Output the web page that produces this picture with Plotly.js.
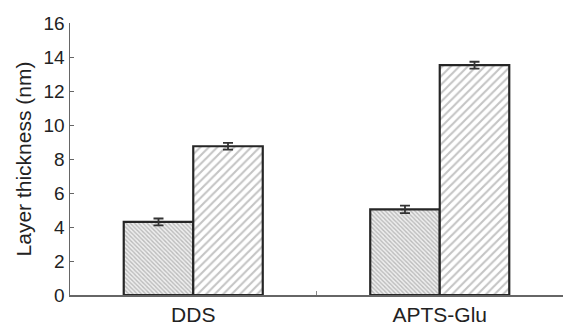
<!DOCTYPE html>
<html>
<head>
<meta charset="utf-8">
<script src="https://cdn.plot.ly/plotly-3.0.1.min.js"></script>
<style>html,body{margin:0;padding:0;background:#fff;}#chart{width:565px;height:328px;}</style>
</head>
<body>
<div id="chart"></div>
<script>
const categories = ["DDS", "APTS-Glu"];
const series1 = [4.3, 5.04];
const series1Err = [0.2, 0.22];
const series2 = [8.75, 13.52];
const series2Err = [0.2, 0.2];
const yTicks = [0, 2, 4, 6, 8, 10, 12, 14, 16];

const common = {
  type: "bar",
  x: categories,
  showlegend: false,
  hoverinfo: "skip"
};
const traces = [
  Object.assign({}, common, {
    y: series1,
    error_y: {type: "data", array: series1Err, visible: true, color: "#333", thickness: 1.8, width: 5},
    marker: {color: "#ffffff", line: {color: "#262626", width: 2.2},
      pattern: {shape: "\\", size: 3, solidity: 0.45, fgcolor: "#888", bgcolor: "#eeeeee", fillmode: "overlay"}}
  }),
  Object.assign({}, common, {
    y: series2,
    error_y: {type: "data", array: series2Err, visible: true, color: "#333", thickness: 1.8, width: 5},
    marker: {color: "#ffffff", line: {color: "#262626", width: 2.2},
      pattern: {shape: "/", size: 6, solidity: 0.35, fgcolor: "#8a8a8a", bgcolor: "#ffffff", fillmode: "overlay"}}
  })
];

const layout = {
  width: 565, height: 328,
  margin: {l: 70, r: 2, t: 23, b: 33},
  paper_bgcolor: "#fff", plot_bgcolor: "#fff",
  font: {family: "Liberation Sans, Arial, sans-serif", size: 19, color: "#222"},
  barmode: "group",
  bargap: 0.436,
  bargroupgap: 0,
  xaxis: {
    type: "category",
    range: [-0.5, 1.5],
    showline: true, linecolor: "#666", linewidth: 1.5,
    ticks: "inside", tickson: "boundaries", ticklen: 4, tickcolor: "#888",
    showgrid: false, zeroline: false,
    tickfont: {size: 21, color: "#222"}
  },
  yaxis: {
    range: [0, 16],
    tickvals: yTicks,
    showline: true, linecolor: "#666", linewidth: 1.5,
    ticks: "inside", ticklen: 4, tickcolor: "#666",
    showgrid: false, zeroline: false,
    tickfont: {size: 19, color: "#222"},
    title: {text: "Layer thickness (nm)", font: {size: 21, color: "#222"}, standoff: 6}
  }
};
Plotly.newPlot("chart", traces, layout, {displayModeBar: false, staticPlot: true});
</script>
</body>
</html>
